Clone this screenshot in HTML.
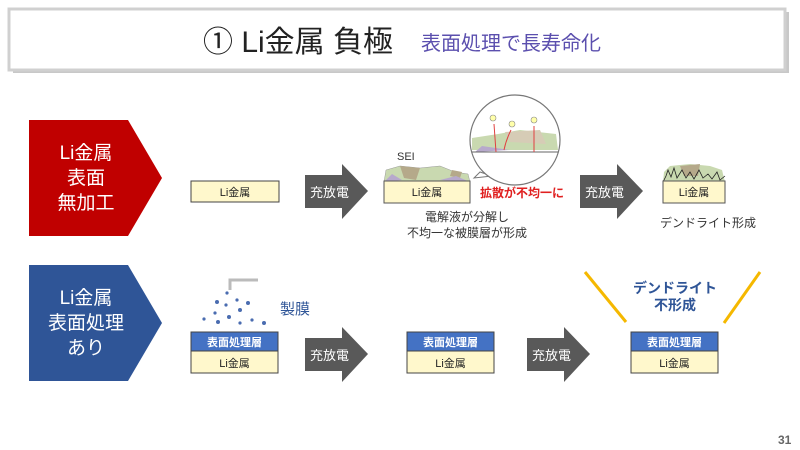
<!DOCTYPE html>
<html><head><meta charset="utf-8"><style>
html,body{margin:0;padding:0;background:#fff;}
svg{display:block;font-family:"Liberation Sans","Noto Sans CJK JP",sans-serif;}
</style></head><body>
<svg width="800" height="450" viewBox="0 0 800 450" xmlns="http://www.w3.org/2000/svg">
<!-- title -->
<rect x="13" y="12" width="776" height="61" fill="#c8c8c8"/>
<rect x="9" y="9" width="776" height="61" fill="#fff" stroke="#d0d0d0" stroke-width="3"/>
<text x="203" y="52" font-size="30" fill="#222">① Li金属 負極</text>
<text x="421" y="50" font-size="20" fill="#5b4fae">表面処理で長寿命化</text>

<!-- red pentagon -->
<polygon points="29,120 128,120 162,178 128,236 29,236" fill="#c00000"/>
<g fill="#fff" font-size="19" text-anchor="middle">
<text x="86" y="159">Li金属</text><text x="86" y="184">表面</text><text x="86" y="209">無加工</text>
</g>
<!-- blue pentagon -->
<polygon points="29,265 128,265 162,323 128,381 29,381" fill="#2f5597"/>
<g fill="#fff" font-size="19" text-anchor="middle">
<text x="86" y="304">Li金属</text><text x="86" y="329">表面処理</text><text x="86" y="354">あり</text>
</g>

<defs>
<g id="arr"><polygon points="0,11 37,11 37,0 63,27 37,55 37,44 0,44" fill="#595959"/>
<text x="5" y="33" font-size="13" fill="#fff">充放電</text></g>
<g id="stack">
<rect x="0" y="0" width="87" height="19" fill="#4472c4" stroke="#444" stroke-width="1"/>
<rect x="0" y="19" width="87" height="22" fill="#fff8cc" stroke="#444" stroke-width="1"/>
<text x="43.5" y="14" font-size="11" font-weight="bold" fill="#fff" text-anchor="middle">表面処理層</text>
<text x="43.5" y="35" font-size="11" fill="#222" text-anchor="middle">Li金属</text>
</g>
</defs>

<!-- row 1 -->
<rect x="191" y="181" width="88" height="21" fill="#fff8cc" stroke="#444"/>
<text x="235" y="196" font-size="11" text-anchor="middle" fill="#222">Li金属</text>
<use href="#arr" x="305" y="164"/>

<!-- SEI -->
<text x="397" y="160" font-size="11" fill="#333">SEI</text>
<path d="M384,182 L386,170 L400,166 L420,168 L440,166 L455,172 L468,174 L470,182 Z" fill="#c9d9b0" stroke="#999" stroke-width="0.5"/>
<path d="M400,166 L420,168 L416,180 L404,178 Z" fill="#b5a98a"/>
<path d="M452,170 L462,172 L460,178 L450,176 Z" fill="#b5a98a"/>
<path d="M384,182 L392,174 L402,180 Z" fill="#b7a9cc"/>
<path d="M440,180 L456,176 L470,182 Z" fill="#b7a9cc"/>
<rect x="384" y="181" width="86" height="22" fill="#fff8cc" stroke="#555"/>
<text x="427" y="196" font-size="11" text-anchor="middle" fill="#222">Li金属</text>
<!-- bubble -->
<path d="M480,172 L474,178 L492,176 Z" fill="#fff" stroke="#777"/>
<circle cx="515" cy="140" r="45" fill="#fff" stroke="#777" stroke-width="1.2"/>
<path d="M472,138 L498,134 L520,130 L556,134 L558,150 L472,150 Z" fill="#c9d9b0"/>
<path d="M505,132 L540,130 L546,144 L510,142 Z" fill="#d6ccb6"/>
<path d="M482,146 L510,150 L475,152 Z" fill="#b7a9cc"/>
<line x1="472" y1="152" x2="558" y2="152" stroke="#666"/>
<circle cx="493" cy="118" r="3" fill="#ffffaa" stroke="#888" stroke-width="0.6"/>
<circle cx="512" cy="124" r="3" fill="#ffffaa" stroke="#888" stroke-width="0.6"/>
<circle cx="534" cy="120" r="3" fill="#ffffaa" stroke="#888" stroke-width="0.6"/>
<g stroke="#e04040" fill="none" stroke-width="1"><path d="M494,124 L496,152"/><path d="M511,130 Q506,140 504,150"/><path d="M534,126 L534,152"/></g>
<text x="480" y="197" font-size="12" font-weight="bold" fill="#e02020">拡散が不均一に</text>
<text x="467" y="221" font-size="12" fill="#333" text-anchor="middle">電解液が分解し</text>
<text x="467" y="237" font-size="12" fill="#333" text-anchor="middle">不均一な被膜層が形成</text>
<use href="#arr" x="580" y="164"/>
<!-- dendrite -->
<path d="M663,182 L664,172 L670,166 L690,164 L710,166 L722,170 L725,182 Z" fill="#c9d9b0"/>
<path d="M680,166 L700,164 L698,176 L684,176 Z" fill="#b5a98a"/>
<path d="M663,182 L666,176 L668,170 L671,177 L674,168 L677,178 L682,170 L686,178 L690,172 L694,179 L699,170 L703,178 L708,174 L712,179 L717,172 L720,180 L725,176" fill="none" stroke="#222" stroke-width="0.8"/>
<rect x="663" y="181" width="62" height="22" fill="#fff8cc" stroke="#555"/>
<text x="694" y="196" font-size="11" text-anchor="middle" fill="#222">Li金属</text>
<text x="708" y="227" font-size="12" text-anchor="middle" fill="#333">デンドライト形成</text>

<!-- row 2 -->
<path d="M230,290 L230,280 L258,280" fill="none" stroke="#bbb" stroke-width="3"/>
<g fill="#4a6cb0">
<circle cx="227" cy="293" r="1.6"/><circle cx="217" cy="302" r="2"/><circle cx="226" cy="305" r="1.6"/><circle cx="237" cy="300" r="1.6"/>
<circle cx="248" cy="303" r="2"/><circle cx="240" cy="310" r="2"/><circle cx="215" cy="313" r="1.6"/><circle cx="229" cy="317" r="2"/>
<circle cx="204" cy="319" r="1.6"/><circle cx="218" cy="322" r="2"/><circle cx="240" cy="323" r="1.6"/><circle cx="252" cy="320" r="1.6"/><circle cx="264" cy="323" r="2"/>
</g>
<text x="280" y="314" font-size="15" fill="#2f5597">製膜</text>
<use href="#stack" x="191" y="332"/>
<use href="#arr" x="305" y="327"/>
<use href="#stack" x="407" y="332"/>
<use href="#arr" x="527" y="327"/>
<use href="#stack" x="631" y="332"/>
<line x1="585" y1="272" x2="626" y2="322" stroke="#f5b800" stroke-width="3"/>
<line x1="760" y1="272" x2="724" y2="323" stroke="#f5b800" stroke-width="3"/>
<text x="675" y="293" font-size="14" font-weight="bold" fill="#2f5597" text-anchor="middle">デンドライト</text>
<text x="675" y="310" font-size="14" font-weight="bold" fill="#2f5597" text-anchor="middle">不形成</text>

<text x="778" y="444" font-size="12" font-weight="bold" fill="#666">31</text>
</svg>
</body></html>
